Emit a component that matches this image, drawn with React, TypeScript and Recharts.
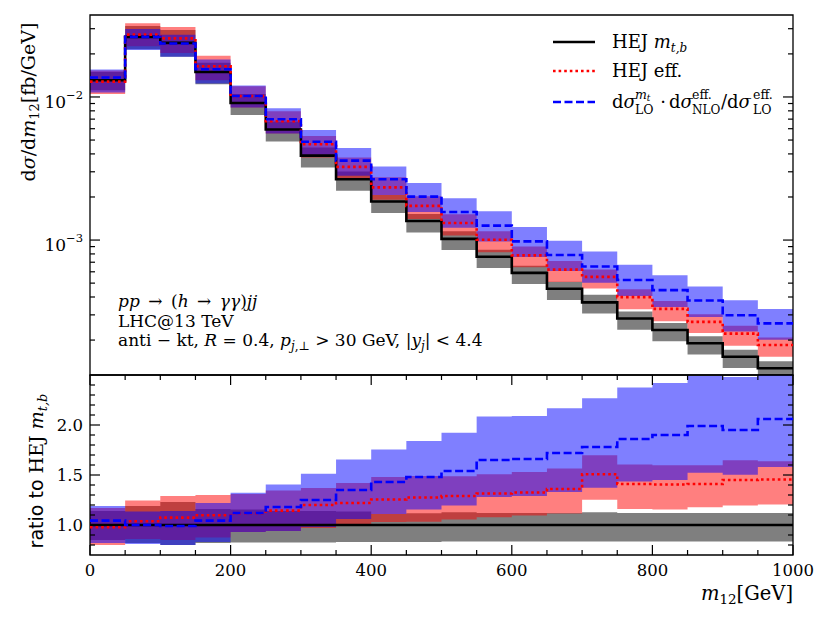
import React from "react";
import {
  ComposedChart,
  Line,
  Area,
  XAxis,
  YAxis,
  ReferenceArea,
  ReferenceLine,
} from "recharts";

// lower edges of the m12 bins [GeV]
const binEdges = [
  0, 50, 100, 150, 200, 250, 300, 350, 400, 450, 500, 550, 600, 650, 700, 750,
  800, 850, 900, 950,
];
const xMax = 1000;

// HEJ m_t,b central values [fb/GeV]
const hejMtb = [
  0.0131, 0.0263, 0.0239, 0.01496, 0.00908, 0.00592, 0.00389, 0.00266, 0.00186,
  0.00136, 0.00102, 0.000764, 0.00059, 0.000457, 0.000367, 0.000283, 0.000235,
  0.00019, 0.000153, 0.000127,
];

// central values relative to HEJ m_t,b
const ratioEff = [
  0.977, 1.037, 1.074, 1.097, 1.117, 1.144, 1.2, 1.22, 1.255, 1.275, 1.29,
  1.315, 1.325, 1.36, 1.507, 1.41, 1.405, 1.41, 1.45, 1.455,
];
const ratioLo = [
  1.044, 1.0, 0.99, 1.044, 1.12, 1.18, 1.25, 1.35, 1.43, 1.48, 1.54, 1.65,
  1.66, 1.72, 1.78, 1.86, 1.9, 1.99, 1.95, 2.06,
];

// uncertainty bands relative to HEJ m_t,b
const mtbBandLow = [
  0.85, 0.82, 0.8, 0.82, 0.825, 0.825, 0.825, 0.83, 0.83, 0.83, 0.835, 0.835,
  0.835, 0.835, 0.835, 0.835, 0.835, 0.835, 0.835, 0.835,
];
const mtbBandHigh = [
  1.14, 1.19, 1.23, 1.16, 1.154, 1.14, 1.14, 1.134, 1.11, 1.117, 1.128, 1.12,
  1.12, 1.12, 1.128, 1.121, 1.12, 1.12, 1.12, 1.12,
];
const effBandLow = [
  0.8, 0.86, 0.85, 0.875, 0.93, 0.94, 0.97, 0.99, 1.03, 1.033, 1.054, 1.077,
  1.095, 1.115, 1.252, 1.161, 1.154, 1.178, 1.195, 1.205,
];
const effBandHigh = [
  1.17, 1.245, 1.29, 1.3, 1.31, 1.345, 1.37, 1.42, 1.48, 1.49, 1.487, 1.507,
  1.53, 1.564, 1.698, 1.604, 1.597, 1.597, 1.648, 1.638,
];
const loBandLow = [
  0.82, 0.81, 0.8, 0.83, 0.93, 0.94, 0.98, 1.06, 1.11, 1.154, 1.195, 1.279,
  1.289, 1.329, 1.372, 1.436, 1.45, 1.523, 1.503, 1.58,
];
const loBandHigh = [
  1.19, 1.134, 1.14, 1.221, 1.322, 1.406, 1.513, 1.655, 1.755, 1.84, 1.923,
  2.084, 2.09, 2.168, 2.268, 2.376, 2.42, 2.49, 2.48, 2.6,
];

const xTicks = [
  0, 50, 100, 150, 200, 250, 300, 350, 400, 450, 500, 550, 600, 650, 700, 750,
  800, 850, 900, 950, 1000,
];
const topTicks = [
  2e-4, 3e-4, 4e-4, 5e-4, 6e-4, 7e-4, 8e-4, 9e-4, 1e-3, 2e-3, 3e-3, 4e-3, 5e-3,
  6e-3, 7e-3, 8e-3, 9e-3, 1e-2, 2e-2, 3e-2,
];
const ratioTicks = [
  0.8, 0.9, 1.0, 1.1, 1.2, 1.3, 1.4, 1.5, 1.6, 1.7, 1.8, 1.9, 2.0, 2.1, 2.2,
  2.3, 2.4,
];
const topDomain = [1.14e-4, 3.74e-2];
const ratioDomain = [0.7, 2.5];

const serif = "'DejaVu Serif', serif";
const sans = "'DejaVu Sans', sans-serif";
const PLOT_W = 703;
const TOP_H = 360;
const BOTTOM_H = 180;

// one row per bin edge, last bin repeated at 1000 so the steps close
const rowIndex = [...binEdges.map((_, i) => i), binEdges.length - 1];
const topData = rowIndex.map((i, k) => {
  const c = hejMtb[i];
  return {
    x: k < binEdges.length ? binEdges[i] : xMax,
    mtb: c,
    eff: c * ratioEff[i],
    lo: c * ratioLo[i],
    mtbBand: [c * mtbBandLow[i], c * mtbBandHigh[i]],
    effBand: [c * effBandLow[i], c * effBandHigh[i]],
    loBand: [c * loBandLow[i], c * loBandHigh[i]],
  };
});
const ratioData = rowIndex.map((i, k) => ({
  x: k < binEdges.length ? binEdges[i] : xMax,
  eff: ratioEff[i],
  lo: ratioLo[i],
  mtbBand: [mtbBandLow[i], mtbBandHigh[i]],
  effBand: [effBandLow[i], effBandHigh[i]],
  loBand: [loBandLow[i], loBandHigh[i]],
}));

const labelStyle = { fontFamily: serif };

const XTick = (props: any) => {
  const { x, y, payload, panelHeight, showLabel } = props;
  const v = payload.value;
  const major = v % 200 === 0;
  const len = major ? 10 : 5;
  return (
    <g>
      <line x1={x} x2={x} y1={y} y2={y - len} stroke="#000" strokeWidth={1.2} />
      <line
        x1={x}
        x2={x}
        y1={y - panelHeight}
        y2={y - panelHeight + len}
        stroke="#000"
        strokeWidth={1.2}
      />
      {showLabel && major && (
        <text x={x} y={y + 21} textAnchor="middle" style={labelStyle} fontSize={16.5} fill="#000">
          {v}
        </text>
      )}
    </g>
  );
};

const LogTick = (props: any) => {
  const { x, y, payload } = props;
  const e = Math.log10(payload.value);
  const major = Math.abs(e - Math.round(e)) < 1e-6;
  const len = major ? 10 : 5;
  return (
    <g>
      <line x1={x} x2={x + len} y1={y} y2={y} stroke="#000" strokeWidth={1.2} />
      <line x1={x + PLOT_W} x2={x + PLOT_W - len} y1={y} y2={y} stroke="#000" strokeWidth={1.2} />
      {major && (
        <text x={x - 7} y={y + 11} textAnchor="end" style={labelStyle} fontSize={17} fill="#000">
          10
          <tspan dy={-9} fontSize={11.5}>
            {"\u2212" + Math.abs(Math.round(e))}
          </tspan>
        </text>
      )}
    </g>
  );
};

const RatioTick = (props: any) => {
  const { x, y, payload } = props;
  const v = payload.value;
  const major = Math.abs(v * 2 - Math.round(v * 2)) < 1e-6;
  const len = major ? 10 : 5;
  return (
    <g>
      <line x1={x} x2={x + len} y1={y} y2={y} stroke="#000" strokeWidth={1.2} />
      <line x1={x + PLOT_W} x2={x + PLOT_W - len} y1={y} y2={y} stroke="#000" strokeWidth={1.2} />
      {major && (
        <text x={x - 7} y={y + 6} textAnchor="end" style={labelStyle} fontSize={16.5} fill="#000">
          {v.toFixed(1)}
        </text>
      )}
    </g>
  );
};

const App = () => {
  return (
    <div style={{ position: "absolute", left: 0, top: 0, width: 830, height: 623, background: "#fff" }}>
      <div style={{ position: "absolute", left: 0, top: 0 }}>
        <ComposedChart
          width={830}
          height={380}
          data={topData}
          margin={{ top: 15, right: 37, bottom: 5, left: 0 }}
        >
          <XAxis
            dataKey="x"
            type="number"
            domain={[0, xMax]}
            ticks={xTicks}
            interval={0}
            allowDataOverflow
            height={0}
            tickSize={0}
            tickMargin={0}
            axisLine={false}
            tick={(p: any) => <XTick {...p} panelHeight={TOP_H} showLabel={false} />}
          />
          <YAxis
            type="number"
            scale="log"
            domain={topDomain}
            ticks={topTicks}
            interval={0}
            allowDataOverflow
            width={90}
            tickSize={0}
            tickMargin={0}
            axisLine={false}
            tick={(p: any) => <LogTick {...p} />}
          />
          <Area type="stepAfter" dataKey="mtbBand" fill="#000000" fillOpacity={0.5} stroke="none" isAnimationActive={false} />
          <Area type="stepAfter" dataKey="effBand" fill="#ff0000" fillOpacity={0.5} stroke="none" isAnimationActive={false} />
          <Area type="stepAfter" dataKey="loBand" fill="#0000ff" fillOpacity={0.5} stroke="none" isAnimationActive={false} />
          <Line type="stepAfter" dataKey="mtb" stroke="#000" strokeWidth={2.6} dot={false} isAnimationActive={false} />
          <Line type="stepAfter" dataKey="eff" stroke="#ff0000" strokeWidth={2.6} strokeDasharray="2.6 3" dot={false} isAnimationActive={false} />
          <Line type="stepAfter" dataKey="lo" stroke="#0000ff" strokeWidth={2.6} strokeDasharray="8 3.5" dot={false} isAnimationActive={false} />
          <ReferenceArea x1={0} x2={xMax} y1={topDomain[0]} y2={topDomain[1]} fill="none" stroke="#000" strokeWidth={1.3} ifOverflow="visible" />
        </ComposedChart>
      </div>
      <div style={{ position: "absolute", left: 0, top: 370 }}>
        <ComposedChart
          width={830}
          height={253}
          data={ratioData}
          margin={{ top: 5, right: 37, bottom: 0, left: 0 }}
        >
          <XAxis
            dataKey="x"
            type="number"
            domain={[0, xMax]}
            ticks={xTicks}
            interval={0}
            allowDataOverflow
            height={68}
            tickSize={0}
            tickMargin={0}
            axisLine={false}
            tick={(p: any) => <XTick {...p} panelHeight={BOTTOM_H} showLabel />}
          />
          <YAxis
            type="number"
            domain={ratioDomain}
            ticks={ratioTicks}
            interval={0}
            allowDataOverflow
            width={90}
            tickSize={0}
            tickMargin={0}
            axisLine={false}
            tick={(p: any) => <RatioTick {...p} />}
          />
          <Area type="stepAfter" dataKey="mtbBand" fill="#000000" fillOpacity={0.5} stroke="none" isAnimationActive={false} />
          <Area type="stepAfter" dataKey="effBand" fill="#ff0000" fillOpacity={0.5} stroke="none" isAnimationActive={false} />
          <Area type="stepAfter" dataKey="loBand" fill="#0000ff" fillOpacity={0.5} stroke="none" isAnimationActive={false} />
          <ReferenceLine y={1} stroke="#000" strokeWidth={2.6} />
          <Line type="stepAfter" dataKey="eff" stroke="#ff0000" strokeWidth={2.6} strokeDasharray="2.6 3" dot={false} isAnimationActive={false} />
          <Line type="stepAfter" dataKey="lo" stroke="#0000ff" strokeWidth={2.6} strokeDasharray="8 3.5" dot={false} isAnimationActive={false} />
          <ReferenceArea x1={0} x2={xMax} y1={ratioDomain[0]} y2={ratioDomain[1]} fill="none" stroke="#000" strokeWidth={1.3} ifOverflow="visible" />
        </ComposedChart>
      </div>

      <svg
        width={830}
        height={623}
        style={{ position: "absolute", left: 0, top: 0, pointerEvents: "none", fontFamily: serif }}
        fill="#000"
      >
        {/* legend */}
        <line x1={553} x2={595} y1={42} y2={42} stroke="#000" strokeWidth={2.6} />
        <text x={612} y={48} fontSize={18}>
          HEJ <tspan fontStyle="italic">m</tspan>
          <tspan fontSize={12} fontStyle="italic" dy={4}>t,b</tspan>
        </text>
        <line x1={553} x2={595} y1={71} y2={71} stroke="#ff0000" strokeWidth={2.6} strokeDasharray="2.6 3" />
        <text x={612} y={77} fontSize={18}>HEJ eff.</text>
        <line x1={553} x2={595} y1={102} y2={102} stroke="#0000ff" strokeWidth={2.6} strokeDasharray="8 3.5" />
        <g fontSize={18}>
          <text x={612} y={108}>d<tspan fontStyle="italic">σ</tspan></text>
          <text x={635} y={99} fontSize={12.5} fontStyle="italic">m<tspan fontSize={9} dy={2}>t</tspan></text>
          <text x={635} y={114} fontSize={12.5}>LO</text>
          <text x={663} y={108} textAnchor="middle">·</text>
          <text x={669} y={108}>d<tspan fontStyle="italic">σ</tspan></text>
          <text x={692} y={99} fontSize={12.5}>eff.</text>
          <text x={692} y={114} fontSize={12}>NLO</text>
          <text x={721} y={108}>/d<tspan fontStyle="italic">σ</tspan></text>
          <text x={753} y={99} fontSize={12.5}>eff.</text>
          <text x={753} y={114} fontSize={12.5}>LO</text>
        </g>

        {/* process annotation */}
        <g fontSize={17}>
          <text x={118} y={307}>
            <tspan fontStyle="italic">pp</tspan>{"\u2002→\u2002"}(<tspan fontStyle="italic">h</tspan>
            {"\u2002→\u2002"}
            <tspan fontStyle="italic">γγ</tspan>)<tspan fontStyle="italic">jj</tspan>
          </text>
          <text x={118} y={327}>LHC@13 TeV</text>
          <text x={118} y={346}>
            anti − kt, <tspan fontStyle="italic">R</tspan> = 0.4, <tspan fontStyle="italic">p</tspan>
            <tspan fontSize={12} dy={4}><tspan fontStyle="italic">j</tspan>,⊥</tspan>
            <tspan dy={-4}> &gt; 30 GeV, |</tspan><tspan fontStyle="italic">y</tspan>
            <tspan fontSize={12} fontStyle="italic" dy={4}>j</tspan>
            <tspan dy={-4}>| &lt; 4.4</tspan>
          </text>
        </g>

        {/* axis titles */}
        <text transform="rotate(-90 35 102)" x={35} y={102} textAnchor="middle" fontSize={19}>
          d<tspan fontStyle="italic">σ</tspan>/d<tspan fontStyle="italic">m</tspan>
          <tspan fontSize={13} dy={4}>12</tspan>
          <tspan dy={-4}>[fb/GeV]</tspan>
        </text>
        <text transform="rotate(-90 43 471)" x={43} y={471} textAnchor="middle">
          <tspan fontFamily={sans} fontSize={19}>ratio to </tspan>
          <tspan fontSize={19}>HEJ </tspan>
          <tspan fontSize={19} fontStyle="italic">m</tspan>
          <tspan fontSize={13} fontStyle="italic" dy={4}>t,b</tspan>
        </text>
        <text x={793} y={600} textAnchor="end" fontSize={19.5}>
          <tspan fontStyle="italic">m</tspan>
          <tspan fontSize={13.5} dy={4}>12</tspan>
          <tspan dy={-4}>[GeV]</tspan>
        </text>
      </svg>
    </div>
  );
};

export default App;
